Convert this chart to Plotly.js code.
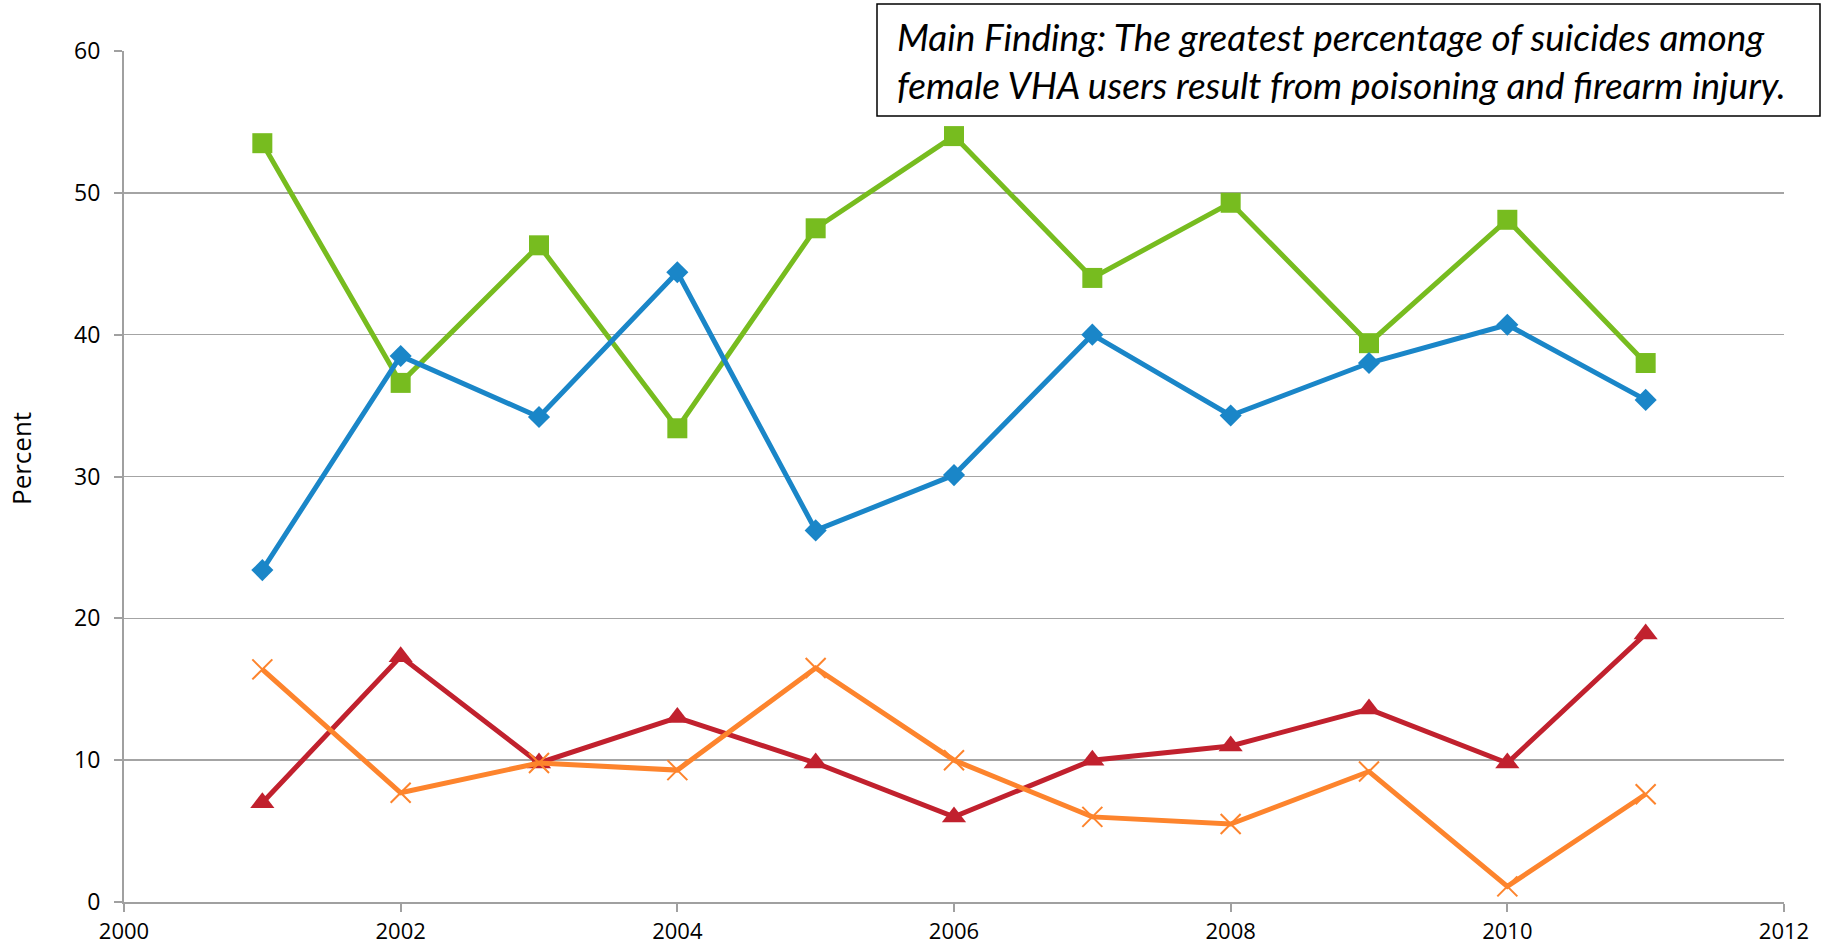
<!DOCTYPE html>
<html>
<head>
<meta charset="utf-8">
<script src="https://cdn.plot.ly/plotly-3.0.1.min.js"></script>
<style>html,body{margin:0;padding:0;background:#fff;}#chart{width:1822px;height:948px;}</style>
</head>
<body>
<div id="chart"></div>
<script>
const years = [2001, 2002, 2003, 2004, 2005, 2006, 2007, 2008, 2009, 2010, 2011];
const poisoning = [53.5, 36.6, 46.3, 33.4, 47.5, 54.0, 44.0, 49.3, 39.4, 48.1, 38.0];
const firearm = [23.4, 38.5, 34.2, 44.4, 26.2, 30.1, 40.0, 34.3, 38.0, 40.7, 35.4];
const hanging = [7.0, 17.3, 9.8, 13.0, 9.8, 6.0, 10.0, 11.0, 13.6, 9.8, 18.9];
const other = [16.4, 7.7, 9.8, 9.3, 16.5, 10.0, 6.0, 5.5, 9.2, 1.1, 7.6];
const xTicks = [2000, 2002, 2004, 2006, 2008, 2010, 2012];
const yTicks = [0, 10, 20, 30, 40, 50, 60];
const yTitle = 'Percent';
const noteText = "Main Finding: The greatest percentage of suicides among<br>female VHA users result from poisoning and firearm injury.";

const green = 'rgb(119,188,31)';
const blue = 'rgb(26,134,200)';
const red = 'rgb(193,33,46)';
const orange = 'rgb(253,132,45)';

const traces = [
  {x: years, y: poisoning, name: 'Poisoning', mode: 'lines+markers',
   line: {color: green, width: 5}, marker: {symbol: 'square', size: 20, color: green}},
  {x: years, y: firearm, name: 'Firearm', mode: 'lines+markers',
   line: {color: blue, width: 5}, marker: {symbol: 'diamond', size: 17, color: blue}},
  {x: years, y: hanging, name: 'Hanging', mode: 'lines+markers',
   line: {color: red, width: 5}, marker: {symbol: 'triangle-up', size: 21, color: red}},
  {x: years, y: other, name: 'Other', mode: 'lines+markers',
   line: {color: orange, width: 5}, marker: {symbol: 'x-thin', size: 20, line: {color: orange, width: 2}}}
];

const W = 1822, H = 948, L = 124, R = 38, T = 51, B = 46;
const pw = W - L - R, ph = H - T - B;
const px = v => (v - L) / pw;
const py = v => (H - B - v) / ph;

const layout = {
  width: W, height: H,
  margin: {l: L, r: R, t: T, b: B},
  paper_bgcolor: '#fff', plot_bgcolor: '#fff',
  showlegend: false,
  font: {family: 'Open Sans, sans-serif', color: '#000', size: 22},
  xaxis: {
    range: [2000, 2012], tickvals: xTicks, ticktext: xTicks.map(String),
    showgrid: false, zeroline: false,
    showline: true, linecolor: '#a0a0a0', linewidth: 2,
    ticks: 'outside', ticklen: 8, tickcolor: '#a0a0a0', tickwidth: 2,
    ticklabelstandoff: 1,
    tickfont: {size: 22, family: 'Open Sans, sans-serif', color: '#000'}
  },
  yaxis: {
    range: [0, 60], tickvals: yTicks,
    showgrid: true, gridcolor: '#a4a4a4', gridwidth: 1.6, zeroline: false,
    showline: true, linecolor: '#a0a0a0', linewidth: 2,
    ticks: 'outside', ticklen: 8, tickcolor: '#a0a0a0', tickwidth: 2,
    ticklabelstandoff: 9,
    tickfont: {size: 23, family: 'Open Sans, sans-serif', color: '#000'}
  },
  shapes: [{
    type: 'rect', xref: 'paper', yref: 'paper',
    x0: px(877), x1: px(1820), y0: py(116), y1: py(4),
    line: {color: '#000', width: 1.5}, fillcolor: '#fff', layer: 'above'
  }],
  annotations: [
    {
      xref: 'paper', yref: 'paper', x: px(21), y: py(459),
      xanchor: 'center', yanchor: 'middle', textangle: -90,
      text: yTitle, showarrow: false,
      font: {family: 'Open Sans, sans-serif', size: 26, color: '#000'}
    },
    {
      xref: 'paper', yref: 'paper', x: px(895), y: py(60),
      xanchor: 'left', yanchor: 'middle', align: 'left',
      text: '<i>' + noteText + '</i>', showarrow: false,
      font: {family: 'Lato, sans-serif', size: 37, color: '#000'}
    }
  ]
};

Plotly.newPlot('chart', traces, layout, {displayModeBar: false, staticPlot: true});
</script>
</body>
</html>
